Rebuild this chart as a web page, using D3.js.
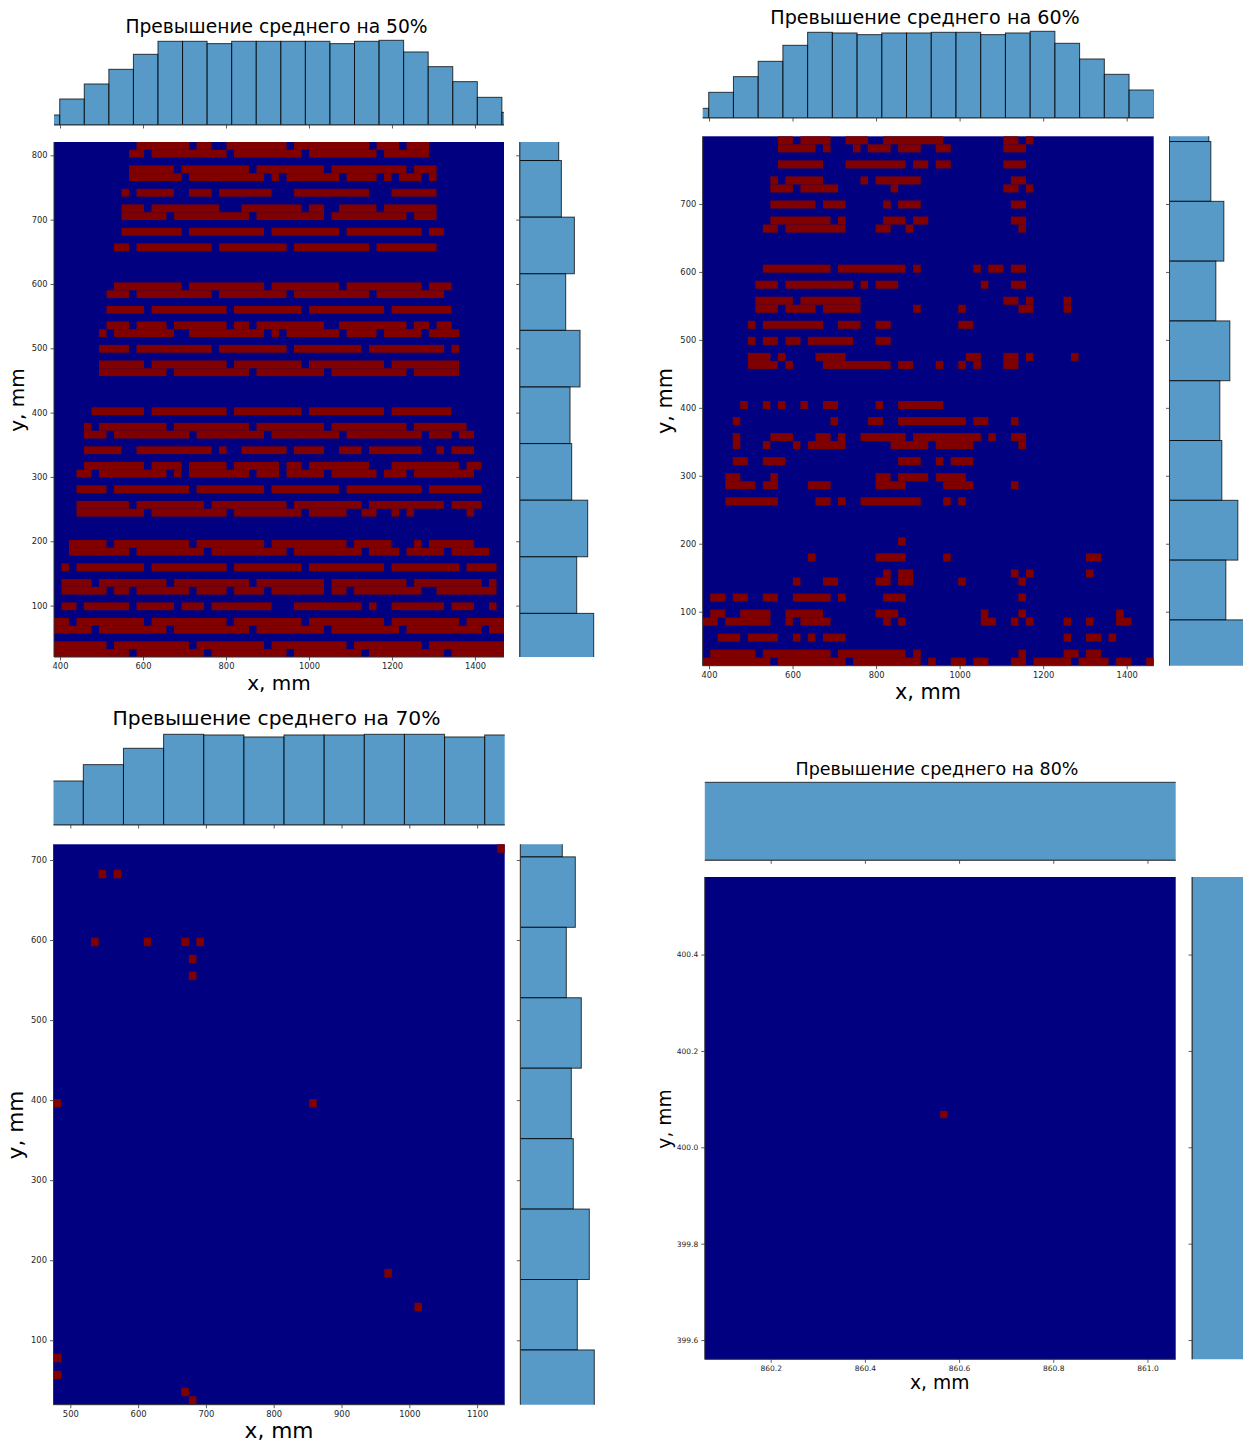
<!DOCTYPE html>
<html><head><meta charset="utf-8">
<style>html,body{margin:0;padding:0;background:#fff;overflow:hidden}
svg{display:block}text{font-family:"DejaVu Sans",sans-serif;fill:#000}
.tick text{fill:#262626}</style>
<script src="https://cdn.jsdelivr.net/npm/d3@7"></script></head>
<body><svg id="c" width="1243" height="1446"></svg>
<script>
// Cells over threshold: one string per grid row from the top, "start-end" column runs.
const rows50 = ["11-18 19-21 23-31 32-42 43-46 47-50","10-12 13-23 24-33 34-43 44-50","","10-16 17-26 27-36 37-47 48-51",
"10-17 18-28 29-30 31-38 39-43 44-45 46-49 50-51","","9-10 11-16 18-21 22-29 32-42 45-51","","9-12 13-22 25-33 34-36 38-43 44-51",
"9-15 16-26 27-36 37-47 48-51","","9-17 18-28 29-38 39-49 50-52","","8-10 11-21 22-31 32-42 43-51","","","","",
"8-17 18-28 29-38 39-49 50-53","7-10 11-21 22-31 32-42 43-52","","7-12 13-23 24-33 34-44 45-53","",
"7-10 11-15 16-23 24-26 27-36 38-47 48-50 51-53","6-7 8-16 18-28 29-30 31-38 39-43 44-49 50-54","",
"6-10 11-21 22-31 32-41 42-52 53-54","","6-12 13-23 24-33 34-44 45-54","6-15 16-26 27-36 37-47 48-54","","","","",
"5-12 13-23 24-33 34-44 45-53","","4-5 6-15 16-26 27-36 37-47 48-55","4-7 8-18 19-28 29-38 39-49 50-53 54-56","",
"4-9 11-21 22-23 25-31 32-36 38-41 42-49 51-52 53-56","","4-12 13-17 18-23 24-30 31-33 34-42 45-54 55-57",
"3-5 6-15 16-17 18-26 27-30 31-36 37-43 44-47 48-56","","3-7 8-18 19-28 29-38 39-49 50-57","",
"3-10 11-20 21-31 32-41 42-52 53-57","3-12 13-23 24-33 34-39 41-43 45-46 47-48 55-56","","","",
"2-7 8-18 19-28 29-39 40-45 48-49 50-56","2-10 11-20 21-31 32-41 42-46 47-52 53-58","",
"1-2 3-12 13-23 24-33 34-44 45-54 55-59","","1-5 6-15 16-26 27-36 37-47 48-57 58-59",
"1-7 8-10 11-18 19-23 24-28 29-36 37-39 40-49 51-59","","1-3 4-10 11-16 17-20 21-29 32-41 42-43 45-52 53-56 58-59","",
"0-2 3-12 13-23 24-33 34-44 45-54 55-60","0-5 6-15 16-26 27-36 37-46 47-57 58-60","",
"0-7 8-18 19-28 29-39 40-49 50-60","0-10 11-20 21-31 32-41 42-52 53-60"];
const rows60 = ["10-12 13-17 19-22 24-32 40-42 43-44","10-15 16-17 20-21 22-25 26-29 31-33 40-43","","10-16 19-27 28-30 31-33 40-43","",
"9-10 11-16 21-22 23-29 41-43","9-12 13-18 25-26 40-42 43-44","","9-15 16-19 24-25 26-29 41-43","",
"9-17 18-19 24-27 28-30 41-43","8-10 11-19 23-25 27-28 42-43","","","","",
"8-17 18-27 28-29 36-37 38-40 41-43","","7-10 11-20 21-22 23-26 37-38 41-43","",
"7-12 13-21 40-42 43-44 48-49","7-10 11-15 16-21 28-29 34-35 42-44 48-49","","6-7 8-16 18-21 23-25 34-36","",
"6-7 8-10 11-13 14-20 23-25","","6-9 10-11 15-19 35-37 40-42 43-44 49-50",
"6-10 11-12 16-25 26-28 31-32 34-35 36-37 40-42","","","","",
"5-6 8-9 10-11 13-14 16-18 23-24 26-32","","4-5 17-18 22-24 26-35 36-38 41-42","",
"4-5 9-12 15-17 18-19 21-27 28-37 38-39 41-43","4-5 8-9 12-13 14-19 25-30 31-36 42-43","",
"4-6 8-11 26-29 31-32 33-36","","3-5 9-10 23-25 26-30 31-35","3-7 8-10 14-17 23-27 32-36 41-42","",
"3-10 15-17 18-19 21-29 32-33 34-35","","","","","26-27","",
"14-15 23-27 32-33 51-53","","24-25 26-28 41-42 43-44 51-52","12-13 16-18 23-25 26-28 34-35 42-43","",
"1-3 4-6 8-10 12-17 18-19 24-27 42-43","","1-3 5-9 11-16 23-26 37-38 42-43 55-56",
"0-2 3-9 11-12 13-17 24-25 26-27 37-39 41-42 43-44 48-49 51-52 55-57","",
"2-5 6-10 12-13 14-15 16-19 48-49 51-53 54-55","","1-7 8-17 18-27 28-29 42-43 48-50 51-53",
"0-9 10-19 20-29 30-31 33-35 36-38 41-43 44-49 50-54 55-57 59-60"];
const rows70 = ["59-60","","","6-7 8-9","","","","","","","","5-6 12-13 17-18 19-20","","18-19","","18-19","","","","","","","","","","","","","","","0-1 34-35",
"","","","","","","","","","","","","","","","","","","","44-45","","","","48-49","","","","","","0-1","","0-1","","17-18","18-19"];
const rows80 = Array.from({length:66},(_,i)=> i===32 ? "33-34" : "");

// Marginal histogram counts.
const histX50 = [30,78,123,167,212,251,251,244,251,251,251,251,244,251,254,219,175,130,83,38];
const histX60 = [29,77,124,170,218,257,255,250,255,255,257,257,250,255,260,224,177,131,84];
const histX70 = [132,181,230,272,270,264,270,270,272,272,264,270];
const histX80 = [1];
const histY50 = [117,125,164,138,181,151,156,204,171,222];
const histY60 = [118,124,163,139,181,151,157,205,169,225];
const histY70 = [126,165,138,183,153,159,207,171,222];
const histY80 = [1];

const titles = ["Превышение среднего на 50%","Превышение среднего на 60%","Превышение среднего на 70%","Превышение среднего на 80%"];
const ticksX = [[400,600,800,1000,1200,1400],[400,600,800,1000,1200,1400],[500,600,700,800,900,1000,1100],[860.2,860.4,860.6,860.8,861.0]];
const ticksY = [[100,200,300,400,500,600,700,800],[100,200,300,400,500,600,700],[100,200,300,400,500,600,700],[399.6,399.8,400.0,400.2,400.4]];
const domX = [[385.5,1470],[384.9,1464.7],[475.2,1140.7],[860.06,861.06]];
const domY = [[20.1,820.7],[20.5,799.6],[19.5,719.6],[399.56,400.561]];

const panels = [
 {rows:rows50,cols:60,hx:histX50,hy:histY50,binX:[340.1,59.2],binY:[-0.1,88],fmt:"d",
  L:54,R:504,T:142,B:657, hTop:40.3,hBase:125, rL:519.7,rW:74, tick:8.3,
  title:{x:276.5,y:32.7,s:18.7}, xl:{x:279,y:690,s:20}, yl:{x:24,y:400,s:20}},
 {rows:rows60,cols:60,hx:histX60,hy:histY60,binX:[340.1,59.2],binY:[-0.1,88],fmt:"d",
  L:702.7,R:1153.7,T:136.3,B:665.7, hTop:31.3,hBase:118, rL:1169.5,rW:75, tick:8.3,
  title:{x:925,y:24,s:19.15}, xl:{x:928,y:699,s:20.8}, yl:{x:672,y:401,s:20.8}},
 {rows:rows70,cols:60,hx:histX70,hy:histY70,binX:[460,59.2],binY:[-0.1,88],fmt:"d",
  L:53.5,R:504.7,T:844.3,B:1404.7, hTop:734.3,hBase:825, rL:520.3,rW:74, tick:8.4,
  title:{x:276.5,y:725.3,s:20.3}, xl:{x:279,y:1438,s:21.7}, yl:{x:23,y:1125,s:21.7}},
 {rows:rows80,cols:66,hx:histX80,hy:histY80,binX:[859,4],binY:[398,4],fmt:".1f",
  L:704.8,R:1175.7,T:877,B:1359.3, hTop:782.3,hBase:860.3, rL:1192,rW:80, tick:7.5,
  title:{x:937,y:774.7,s:17.5}, xl:{x:939.7,y:1389,s:18.7}, yl:{x:671,y:1119,s:18.7}}
];

const svg = d3.select("#c");
const defs = svg.append("defs");
const parseRuns = s => s ? s.split(" ").map(r => r.split("-").map(Number)) : [];

function spine(g,x1,y1,x2,y2){
  g.append("line").attr("x1",x1).attr("y1",y1).attr("x2",x2).attr("y2",y2)
   .attr("stroke","#333").attr("stroke-width",1);
}
function styleAxis(a,size){
  a.select(".domain").remove();
  a.selectAll(".tick line").attr("stroke","#333").attr("stroke-width",0.8);
  a.selectAll(".tick text").attr("font-size",size).attr("font-family","DejaVu Sans");
}

panels.forEach((p,i)=>{
  const g = svg.append("g");
  const x = d3.scaleLinear().domain(domX[i]).range([p.L,p.R]);
  const y = d3.scaleLinear().domain(domY[i]).range([p.B,p.T]);
  const nR = p.rows.length;
  const colS = d3.scaleLinear().domain([0,p.cols]).range([p.L,p.R]);
  const rowS = d3.scaleLinear().domain([0,nR]).range([p.T,p.B]);
  const fmt = d3.format(p.fmt);

  // heat map
  g.append("rect").attr("x",p.L).attr("y",p.T).attr("width",p.R-p.L).attr("height",p.B-p.T).attr("fill","#000080");
  const cells = p.rows.flatMap((s,r)=>parseRuns(s).map(([a,b])=>({r,a,b})));
  g.append("g").selectAll("rect").data(cells).join("rect")
    .attr("x",d=>colS(d.a)).attr("width",d=>colS(d.b)-colS(d.a))
    .attr("y",d=>rowS(d.r)).attr("height",d=>rowS(d.r+1)-rowS(d.r))
    .attr("fill","#800000");
  spine(g,p.L,p.T,p.L,p.B); spine(g,p.L,p.B,p.R,p.B);
  styleAxis(g.append("g").attr("transform",`translate(0,${p.B})`)
    .call(d3.axisBottom(x).tickValues(ticksX[i]).tickSize(3.5).tickPadding(3).tickFormat(fmt)),p.tick);
  styleAxis(g.append("g").attr("transform",`translate(${p.L},0)`)
    .call(d3.axisLeft(y).tickValues(ticksY[i]).tickSize(3.5).tickPadding(3).tickFormat(fmt)),p.tick);

  // top marginal
  defs.append("clipPath").attr("id","ct"+i).append("rect")
    .attr("x",p.L).attr("y",p.hTop-8).attr("width",p.R-p.L).attr("height",p.hBase-p.hTop+8);
  const hy = d3.scaleLinear().domain([0,d3.max(p.hx)]).range([p.hBase,p.hTop]);
  g.append("g").attr("clip-path",`url(#ct${i})`).selectAll("rect").data(p.hx).join("rect")
    .attr("x",(d,k)=>x(p.binX[0]+k*p.binX[1])).attr("width",x(p.binX[1])-x(0))
    .attr("y",d=>hy(d)).attr("height",d=>p.hBase-hy(d))
    .attr("fill","#1f77b4").attr("fill-opacity",0.75)
    .attr("stroke","#000").attr("stroke-opacity",0.75).attr("stroke-width",1);
  spine(g,p.L,p.hBase,p.R,p.hBase);
  styleAxis(g.append("g").attr("transform",`translate(0,${p.hBase})`)
    .call(d3.axisBottom(x).tickValues(ticksX[i]).tickSize(3.5).tickFormat("")),p.tick);

  // right marginal
  defs.append("clipPath").attr("id","cr"+i).append("rect")
    .attr("x",p.rL).attr("y",p.T).attr("width",p.rW+10).attr("height",p.B-p.T);
  const hx = d3.scaleLinear().domain([0,d3.max(p.hy)]).range([p.rL,p.rL+p.rW]);
  const nb = p.hy.length;
  g.append("g").attr("clip-path",`url(#cr${i})`).selectAll("rect").data(p.hy).join("rect")
    .attr("x",p.rL).attr("width",d=>hx(d)-p.rL)
    .attr("y",(d,k)=>y(p.binY[0]+(nb-k)*p.binY[1]))
    .attr("height",y(0)-y(p.binY[1]))
    .attr("fill","#1f77b4").attr("fill-opacity",0.75)
    .attr("stroke","#000").attr("stroke-opacity",0.75).attr("stroke-width",1);
  spine(g,p.rL,p.T,p.rL,p.B);
  styleAxis(g.append("g").attr("transform",`translate(${p.rL},0)`)
    .call(d3.axisLeft(y).tickValues(ticksY[i]).tickSize(3.5).tickFormat("")),p.tick);

  // text
  g.append("text").attr("x",p.title.x).attr("y",p.title.y).attr("text-anchor","middle")
    .attr("font-size",p.title.s).text(titles[i]);
  g.append("text").attr("x",p.xl.x).attr("y",p.xl.y).attr("text-anchor","middle")
    .attr("font-size",p.xl.s).text("x, mm");
  g.append("text").attr("transform",`translate(${p.yl.x},${p.yl.y}) rotate(-90)`).attr("text-anchor","middle")
    .attr("font-size",p.yl.s).text("y, mm");
});
</script></body></html>
